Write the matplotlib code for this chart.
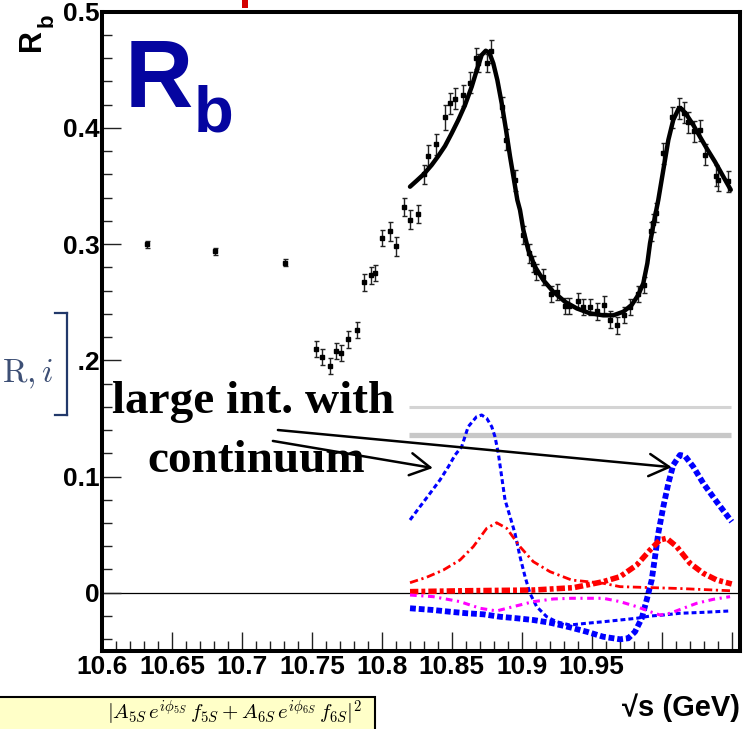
import matplotlib
matplotlib.use('Agg')
import matplotlib.pyplot as plt
from matplotlib.ticker import FixedLocator, MultipleLocator
from matplotlib.patches import Rectangle
from matplotlib.lines import Line2D

plt.rcParams['mathtext.fontset'] = 'cm'
SANS = ['Liberation Sans', 'DejaVu Sans']
SERIF = ['Liberation Serif', 'DejaVu Serif']

# ---------------- data ----------------
data_x = [10.632, 10.681, 10.731, 10.753, 10.757, 10.763, 10.767, 10.771, 10.776, 10.782,
          10.787, 10.792, 10.795, 10.800, 10.806, 10.810, 10.816, 10.820, 10.826, 10.830,
          10.833, 10.839, 10.845, 10.849, 10.852, 10.858, 10.863, 10.867, 10.869, 10.875,
          10.878, 10.886, 10.889, 10.895, 10.901, 10.905, 10.908, 10.910, 10.915, 10.921,
          10.925, 10.931, 10.934, 10.940, 10.944, 10.949, 10.954, 10.959, 10.963, 10.968,
          10.973, 10.977, 10.983, 10.987, 10.992, 10.994, 10.996, 11.001, 11.007, 11.012,
          11.016, 11.019, 11.023, 11.027, 11.031, 11.039, 11.040, 11.047]
data_y = [0.300, 0.294, 0.284, 0.210, 0.203, 0.195, 0.208, 0.206, 0.218, 0.226,
          0.267, 0.273, 0.275, 0.305, 0.311, 0.298, 0.332, 0.321, 0.326, 0.360,
          0.376, 0.386, 0.409, 0.421, 0.425, 0.428, 0.439, 0.460, 0.456, 0.456,
          0.466, 0.418, 0.390, 0.355, 0.308, 0.292, 0.283, 0.276, 0.272, 0.257,
          0.259, 0.247, 0.247, 0.251, 0.246, 0.246, 0.242, 0.248, 0.235, 0.230,
          0.239, 0.246, 0.257, 0.265, 0.311, 0.318, 0.327, 0.378, 0.409, 0.417,
          0.413, 0.405, 0.397, 0.398, 0.377, 0.359, 0.355, 0.354]
data_err = [0.003, 0.003, 0.003, 0.007, 0.007, 0.007, 0.007, 0.007, 0.007, 0.007,
            0.007, 0.007, 0.007, 0.007, 0.008, 0.008, 0.008, 0.008, 0.008, 0.008,
            0.009, 0.009, 0.011, 0.009, 0.009, 0.009, 0.009, 0.009, 0.008, 0.008,
            0.010, 0.009, 0.009, 0.009, 0.008, 0.008, 0.007, 0.007, 0.007, 0.007,
            0.007, 0.007, 0.007, 0.007, 0.007, 0.007, 0.007, 0.007, 0.007, 0.007,
            0.007, 0.007, 0.007, 0.007, 0.008, 0.008, 0.008, 0.009, 0.009, 0.009,
            0.009, 0.009, 0.009, 0.009, 0.009, 0.009, 0.009, 0.009]

fit_x = [10.8201, 10.8249, 10.8301, 10.8356, 10.8403, 10.8451, 10.8499, 10.8546, 10.8594,
         10.8642, 10.8682, 10.8713, 10.8742, 10.8768, 10.8796, 10.8825, 10.8856, 10.8887,
         10.8916, 10.8944, 10.8968, 10.8987, 10.9011, 10.9046, 10.9094, 10.9153, 10.9225,
         10.9308, 10.9392, 10.9487, 10.9582, 10.9654, 10.9725, 10.9785, 10.9832, 10.9868,
         10.9897, 10.9916, 10.9944, 10.9975, 11.0011, 11.0047, 11.0082, 11.0118, 11.0143,
         11.0178, 11.0225, 11.0273, 11.0321, 11.0380, 11.0440, 11.0493]
fit_y = [0.3494, 0.3546, 0.3604, 0.3681, 0.3758, 0.3844, 0.3954, 0.4068, 0.4197,
         0.4355, 0.4513, 0.4627, 0.4664, 0.4647, 0.4556, 0.4412, 0.4212, 0.3983,
         0.3752, 0.3552, 0.3379, 0.3293, 0.3121, 0.2949, 0.2805, 0.2691, 0.2590,
         0.2504, 0.2447, 0.2404, 0.2387, 0.2387, 0.2418, 0.2476, 0.2562, 0.2663,
         0.2835, 0.3007, 0.3190, 0.3379, 0.3638, 0.3896, 0.4068, 0.4160, 0.4163,
         0.4111, 0.4025, 0.3924, 0.3824, 0.3709, 0.3580, 0.3467]

# blue thin dashed component
b1_x = [10.8201, 10.8272, 10.8344, 10.8415, 10.8475, 10.8523, 10.8570, 10.8617, 10.8677,
        10.8713, 10.8749, 10.8785, 10.8808, 10.8832, 10.8856, 10.8880, 10.8916, 10.8951,
        10.8987, 10.9023, 10.9058, 10.9106, 10.9178, 10.9249, 10.9344, 10.9464, 10.9582,
        10.9702, 10.9821, 10.9916, 11.0011, 11.0130, 11.0297, 11.0488]
b1_y = [0.0626, 0.0740, 0.0855, 0.0970, 0.1084, 0.1185, 0.1256, 0.1429, 0.1515,
        0.1529, 0.1501, 0.1429, 0.1343, 0.1200, 0.0998, 0.0798, 0.0654, 0.0511,
        0.0310, 0.0138, -0.0005, -0.0120, -0.0207, -0.0250, -0.0278, -0.0263, -0.0250,
        -0.0235, -0.0220, -0.0201, -0.0192, -0.0177, -0.0169, -0.0157]

# blue thick dashed component
b2_x = [10.8201, 10.8367, 10.8487, 10.8606, 10.8725, 10.8844, 10.8963, 10.9082, 10.9201,
        10.9344, 10.9464, 10.9582, 10.9702, 10.9761, 10.9809, 10.9857, 10.9892, 10.9928,
        10.9952, 10.9975, 11.0011, 11.0047, 11.0082, 11.0130, 11.0166, 11.0225, 11.0297,
        11.0392, 11.0500]
b2_y = [-0.0134, -0.0149, -0.0164, -0.0177, -0.0186, -0.0207, -0.0220, -0.0235, -0.0258,
        -0.0298, -0.0336, -0.0379, -0.0401, -0.0392, -0.0336, -0.0220, -0.0063, 0.0109,
        0.0310, 0.0511, 0.0740, 0.0941, 0.1099, 0.1185, 0.1176, 0.1084, 0.0941,
        0.0783, 0.0611]

# red thin dash-dot component
r1_x = [10.8201, 10.8320, 10.8439, 10.8558, 10.8653, 10.8749, 10.8820, 10.8892, 10.8987,
        10.9082, 10.9201, 10.9356, 10.9582, 10.9702, 11.0130, 11.0488]
r1_y = [0.0086, 0.0133, 0.0195, 0.0281, 0.0396, 0.0554, 0.0602, 0.0554, 0.0396,
        0.0267, 0.0181, 0.0109, 0.0081, 0.0052, 0.0036, 0.0017]

# red thick dash-dot component
r2_x = [10.8201, 10.8606, 10.9082, 10.9368, 10.9464, 10.9582, 10.9702, 10.9821, 10.9916,
        10.9987, 11.0035, 11.0107, 11.0202, 11.0297, 11.0393, 11.0500]
r2_y = [0.0009, 0.0017, 0.0023, 0.0043, 0.0066, 0.0095, 0.0138, 0.0238, 0.0367,
        0.0454, 0.0468, 0.0396, 0.0253, 0.0167, 0.0109, 0.0075]

# magenta dash-dot component
m_x = [10.8201, 10.8367, 10.8558, 10.8701, 10.8820, 10.8939, 10.9082, 10.9225, 10.9356,
       10.9582, 10.9702, 10.9821, 10.9916, 10.9987, 11.0059, 11.0154, 11.0250, 11.0368,
       11.0488]
m_y = [-0.0020, -0.0034, -0.0077, -0.0134, -0.0157, -0.0120, -0.0077, -0.0054, -0.0048,
       -0.0048, -0.0077, -0.0120, -0.0163, -0.0192, -0.0177, -0.0134, -0.0091, -0.0057,
       -0.0034]

# grey reference levels
ref_levels = [0.160, 0.136]
ref_xrange = [10.8193, 11.0498]

x_ticks = [10.6, 10.65, 10.7, 10.75, 10.8, 10.85, 10.9, 10.95, 11.0, 11.05]
x_ticklabels = ['10.6', '10.65', '10.7', '10.75', '10.8', '10.85', '10.9', '10.95', '', '']
y_ticks = [0.0, 0.1, 0.2, 0.3, 0.4, 0.5]
y_ticklabels = ['0', '0.1', '0.2', '0.3', '0.4', '0.5']

# annotation arrows
arrow_tails = [(10.7257, 0.140), (10.7221, 0.1306)]
arrow_heads = [(11.0071, 0.108), (10.8364, 0.1073)]

# ---------------- figure ----------------
W, H = 751, 729
fig = plt.figure(figsize=(W / 100, H / 100), dpi=100)
fig.patch.set_facecolor('white')


def fx(p):
    return p / W


def fy(p):
    return 1 - p / H


ax = fig.add_axes([fx(102), fy(650.8), (740 - 102) / W, (650.8 - 11.7) / H])
ax.set_xlim(10.6, 11.0559)
ax.set_ylim(-0.05, 0.5)

ax.xaxis.set_major_locator(FixedLocator(x_ticks))
ax.xaxis.set_minor_locator(MultipleLocator(0.01))
ax.yaxis.set_major_locator(FixedLocator(y_ticks))
ax.yaxis.set_minor_locator(MultipleLocator(0.02))
ax.set_xticklabels(x_ticklabels, fontsize=19, fontweight='bold', family=SANS)
ax.set_yticklabels(y_ticklabels, fontsize=19, fontweight='bold', family=SANS)
ax.tick_params(which='both', direction='in', top=False, right=False, width=1.0, color='#222222')
ax.tick_params(which='major', length=14)
ax.tick_params(which='minor', length=7)
ax.tick_params(axis='x', pad=3)
ax.tick_params(axis='y', pad=1.5)
for s in ax.spines.values():
    s.set_linewidth(2.9)

ax.axhline(0, color='black', lw=0.9, zorder=1)

# grey horizontal lines
ax.hlines(ref_levels[0], ref_xrange[0], ref_xrange[1], color='#d4d4d4', lw=2.2, zorder=1)
ax.hlines(ref_levels[1], ref_xrange[0], ref_xrange[1], color='#c8c8c8', lw=3.8, zorder=1)

# data points
ax.errorbar(data_x, data_y, yerr=data_err, fmt='s', color='black', ms=2.4,
            ecolor='#222222', elinewidth=1.0, capsize=1.8, capthick=1.0, zorder=3)

# components
ax.plot(b1_x, b1_y, color='#0000ff', lw=2.2, ls=(0, (1.6, 1.0)), zorder=4)
ax.plot(b2_x, b2_y, color='#0000ff', lw=4.2, ls=(0, (1.0, 0.5)), zorder=4)
ax.plot(r1_x, r1_y, color='#ff0000', lw=2.0, ls=(0, (3.0, 1.3, 0.8, 1.3)), zorder=4)
ax.plot(r2_x, r2_y, color='#ff0000', lw=4.0, ls=(0, (1.5, 0.55, 0.7, 0.55)), zorder=4)
ax.plot(m_x, m_y, color='#ff00ff', lw=2.2, ls=(0, (2.2, 1.5, 0.7, 1.5)), zorder=4)

# fit
ax.plot(fit_x, fit_y, color='black', lw=3.2, zorder=5, solid_capstyle='round',
        solid_joinstyle='round')

# arrows
for tail, head in zip(arrow_tails, arrow_heads):
    ax.annotate('', xy=head, xytext=tail, annotation_clip=False,
                arrowprops=dict(arrowstyle='->,head_length=0.9,head_width=0.5',
                                lw=1.8, color='black', mutation_scale=16,
                                shrinkA=0, shrinkB=0), zorder=6)

# annotation text
fig.text(fx(112), fy(413), 'large int. with', fontsize=34, fontweight='bold',
         family=SERIF, ha='left', va='baseline')
fig.text(fx(147), fy(472), 'continuum', fontsize=34, fontweight='bold',
         family=SERIF, ha='left', va='baseline')

# big blue label
fig.text(fx(125), fy(107), 'R', fontsize=68, fontweight='bold', color='#0505a0',
         family=SANS, ha='left', va='baseline')
fig.text(fx(194), fy(131), 'b', fontsize=47, fontweight='bold', color='#0505a0',
         family=SANS, ha='left', va='baseline')

# axis titles
fig.text(fx(47), fy(51), 'R', fontsize=22, fontweight='bold', rotation=90,
         family=SANS, ha='right', va='bottom')
fig.text(fx(58), fy(27), 'b', fontsize=16, fontweight='bold', rotation=90,
         family=SANS, ha='right', va='bottom')
fig.text(fx(740), fy(716), '\u221as (GeV)', fontsize=21, fontweight='bold',
         family=SANS, ha='right', va='baseline')

# overlay fragments from the slide
fig.patches.append(Rectangle((0, fy(420)), fx(79), (420 - 305) / H, transform=fig.transFigure,
                             facecolor='white', edgecolor='none', zorder=10))
fig.text(fx(2), fy(382), r'$\mathrm{R},i$', fontsize=24, color='#3d4f75',
         ha='left', va='baseline', zorder=11)
for (x0, y0, x1, y1) in [(67, 313, 67, 415), (55, 313, 67, 313), (55, 415, 67, 415)]:
    fig.lines.append(Line2D([fx(x0), fx(x1)], [fy(y0), fy(y1)], transform=fig.transFigure,
                            color='#22386a', lw=1.6, zorder=11))

# red fragment of the slide title above the plot
fig.patches.append(Rectangle((fx(242), fy(8)), fx(6), 8 / H, transform=fig.transFigure,
                             facecolor='#d40000', edgecolor='none', zorder=10))

# formula box at the bottom of the slide
fig.patches.append(Rectangle((fx(-5), fy(740)), fx(380), (740 - 697) / H,
                             transform=fig.transFigure, facecolor='#ffffc8',
                             edgecolor='black', lw=1.5, zorder=10))
fig.text(fx(362), fy(720),
         r'$|A_{5S}\,e^{i\phi_{5S}}\,f_{5S}+A_{6S}\,e^{i\phi_{6S}}\,f_{6S}|^2$',
         fontsize=15, ha='right', va='baseline', zorder=11)

fig.savefig('out.png', dpi=100)
